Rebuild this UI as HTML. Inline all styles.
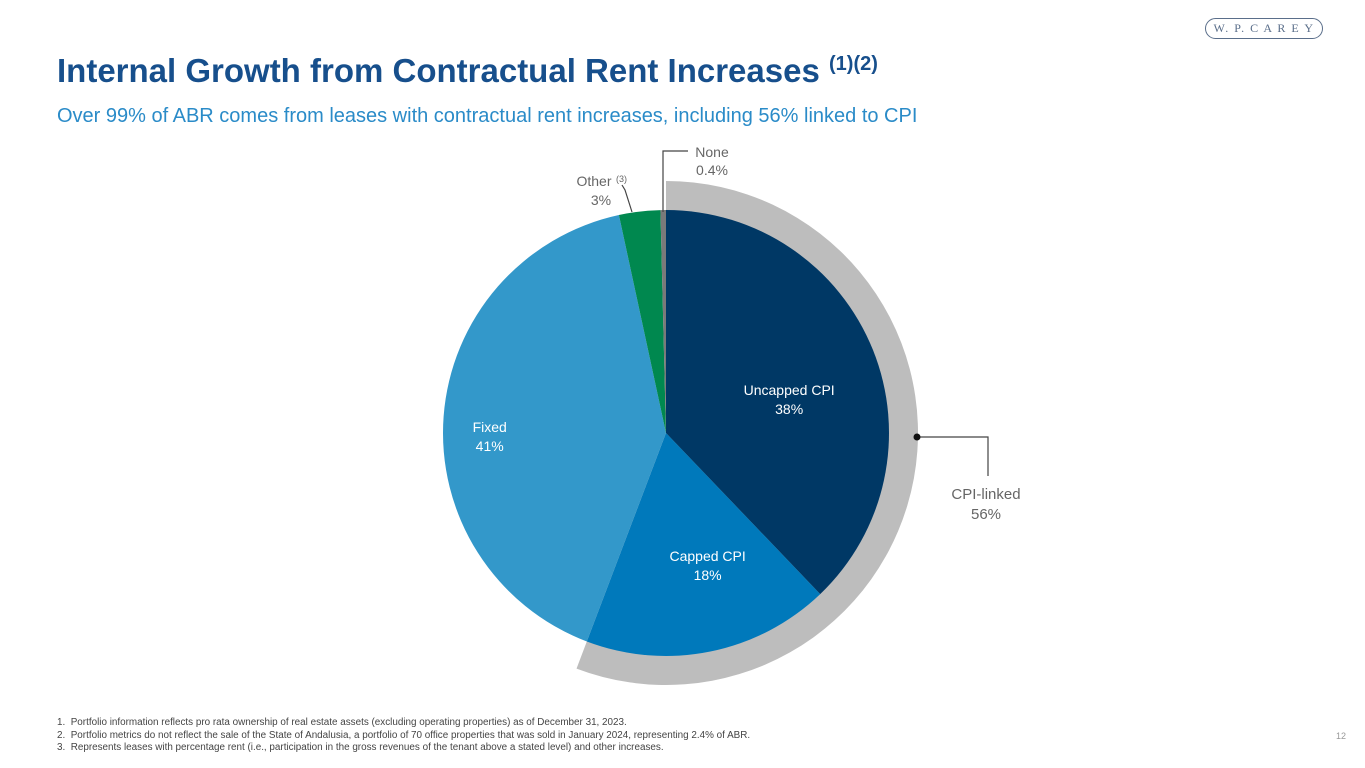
<!DOCTYPE html>
<html><head><meta charset="utf-8"><style>
body{margin:0;width:1365px;height:768px;background:#fff;font-family:"Liberation Sans",sans-serif;position:relative;overflow:hidden}
.t{position:absolute;white-space:nowrap}
</style></head><body>
<div class="t" style="left:57px;top:52px;font-size:33px;font-weight:bold;color:#174f8c">Internal Growth from Contractual Rent Increases <sup style="font-size:20px">(1)(2)</sup></div>
<div class="t" style="left:57px;top:105px;font-size:20px;color:#2a8bc8">Over 99% of ABR comes from leases with contractual rent increases, including 56% linked to CPI</div>
<div class="t" style="left:1205px;top:18px;width:116px;height:19px;border:1.5px solid #5a6e8a;border-radius:11px;font-family:'Liberation Serif',serif;font-size:12px;color:#5a6e8a;text-align:center;line-height:19px;letter-spacing:1.5px">W. P. C A R E Y</div>
<svg id="chart" width="1365" height="768" style="position:absolute;left:0;top:0"></svg>
<div class="t" style="left:57px;top:717px;font-size:9.9px;color:#444;line-height:12.5px">1.&nbsp; Portfolio information reflects pro rata ownership of real estate assets (excluding operating properties) as of December 31, 2023.<br>2.&nbsp; Portfolio metrics do not reflect the sale of the State of Andalusia, a portfolio of 70 office properties that was sold in January 2024, representing 2.4% of ABR.<br>3.&nbsp; Represents leases with percentage rent (i.e., participation in the gross revenues of the tenant above a stated level) and other increases.</div>
<div class="t" style="left:1336px;top:731px;font-size:9px;color:#999">12</div>
<script>
const categories=["Uncapped CPI","Capped CPI","Fixed","Other","None"];
const values=[38,18,41,3,0.4];
const labels=["38%","18%","41%","3%","0.4%"];
const colors=["#003865","#0079bb","#3398ca","#00884f","#7a7a7a"];
const cpiShare=[56];
const svg=document.getElementById('chart');
const NS='http://www.w3.org/2000/svg';
const cx=666,cy=433,r=223,R=252;
const total=values.reduce((a,b)=>a+b,0);
function pt(a,rad){return [cx+rad*Math.sin(a),cy-rad*Math.cos(a)];}
function arc(a0,a1,rad){const p0=pt(a0,rad),p1=pt(a1,rad);const l=(a1-a0)>Math.PI?1:0;return `M${cx},${cy}L${p0[0]},${p0[1]}A${rad},${rad} 0 ${l} 1 ${p1[0]},${p1[1]}Z`;}
let ringEnd=(values[0]+values[1])/total*2*Math.PI;
const ring=document.createElementNS(NS,'path');
ring.setAttribute('d',arc(0,ringEnd,R));ring.setAttribute('fill','#bdbdbd');


svg.appendChild(ring);
let a=0;
const mids=[];
values.forEach((v,i)=>{const a1=a+v/total*2*Math.PI;const p=document.createElementNS(NS,'path');
p.setAttribute('d',arc(a,a1,r));p.setAttribute('fill',colors[i]);


svg.appendChild(p);mids.push((a+a1)/2);a=a1;});
function txt(x,y,s,fill,name,size){const t=document.createElementNS(NS,'text');t.setAttribute('x',x);t.setAttribute('y',y);t.setAttribute('text-anchor','middle');t.setAttribute('font-size',size||14);t.setAttribute('fill',fill);t.textContent=s;


svg.appendChild(t);}
const offs=[[-1,12],[15,-3],[-54,8]];
const lr=[0.6,0.6,0.55];
for(let i=0;i<3;i++){const p=pt(mids[i],r*lr[i]);const x=p[0]+offs[i][0],y=p[1]+offs[i][1];txt(x,y,categories[i],'#fff','label-'+i);txt(x,y+19,labels[i],'#fff','value-'+i);}
txt(594,186,'Other','#666','label-other',14);
const sup=document.createElementNS(NS,'text');sup.setAttribute('x',616);sup.setAttribute('y',182);sup.setAttribute('font-size',9);sup.setAttribute('fill','#666');sup.textContent='(3)';


svg.appendChild(sup);
txt(601,205,labels[3],'#666','value-other',14);
txt(712,157,'None','#666','label-none',14);txt(712,175,labels[4],'#666','value-none',14);
txt(986,499,'CPI-linked','#666','label-cpi-linked',15);txt(986,519,cpiShare[0]+'%','#666','value-cpi-linked',15);
function line(d,name){const p=document.createElementNS(NS,'path');p.setAttribute('d',d);p.setAttribute('stroke','#444');p.setAttribute('fill','none');p.setAttribute('stroke-width',1.2);


svg.appendChild(p);}
line('M663,212L663,151L688,151','leader-none');
line('M632,212L625,190L622,185','leader-other');
line('M917,437L988,437L988,476','leader-cpi');
const dot=document.createElementNS(NS,'circle');dot.setAttribute('cx',917);dot.setAttribute('cy',437);dot.setAttribute('r',3.5);dot.setAttribute('fill','#111');


svg.appendChild(dot);
</script>
</body></html>
